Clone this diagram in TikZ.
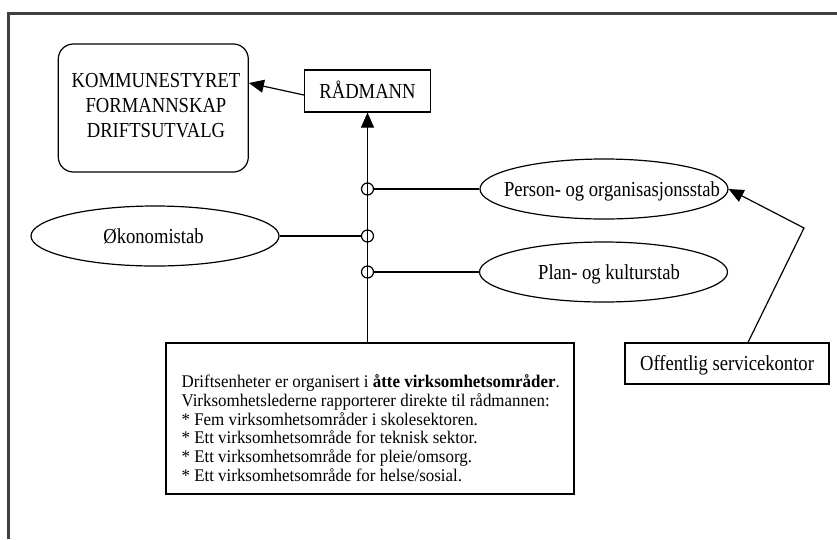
\documentclass[tikz,border=0pt]{standalone}
\usepackage{fontspec}
\setmainfont{Liberation Serif}[FakeStretch=0.87]
\newfontfamily\notefont{Liberation Serif}[FakeStretch=0.95]
\usetikzlibrary{arrows.meta,shapes.geometric}
\begin{document}
\begin{tikzpicture}[x=1pt,y=-1pt,
  line width=1.2pt,
  lbl/.style={font=\fontsize{21.4}{25}\selectfont, text height=14pt, text depth=0pt, inner sep=0pt},
  stab/.style={draw, ellipse, minimum width=248pt, minimum height=60pt, inner sep=0pt},
  boxed/.style={draw, rectangle, inner sep=0pt},
  arr/.style={-{Triangle[length=15pt,width=13pt]}},
  joint/.style={draw, circle, minimum size=12pt, inner sep=0pt},
  frame/.style={draw=black!75, line width=2.2pt}]
\useasboundingbox (0,0) rectangle (837,539);

% outer frame (only top and left edges fall inside the page)
\draw[frame] (837,13.5) -- (8.5,13.5) -- (8.5,539);

% council box
\node[draw, rounded corners=15pt, minimum width=190pt, minimum height=128pt, inner sep=0pt] (komm) at (153.3,108) {};
\node[font=\fontsize{21.4}{25}\selectfont, align=center, inner sep=0pt, anchor=north] (kommtext) at (156,73)
  {KOMMUNESTYRET\\FORMANNSKAP\\DRIFTSUTVALG};

% chief executive
\node[boxed, minimum width=126pt, minimum height=42pt, label={[lbl]center:RÅDMANN}] (radm) at (367.5,91) {};

% staff units
\node[stab, label={[lbl,xshift=8pt]center:Person- og organisasjonsstab}] (pers) at (604,189) {};
\node[stab, label={[lbl,xshift=-1.5pt]center:Økonomistab}] (okon) at (155,236) {};
\node[stab, label={[lbl,xshift=5.5pt]center:Plan- og kulturstab}] (plan) at (603.5,272) {};

% service office
\node[boxed, minimum width=204pt, minimum height=41pt, label={[lbl]center:Offentlig servicekontor}] (off) at (727,363.5) {};

% operating units
\node[boxed, minimum width=408pt, minimum height=151pt] (note) at (370,418.5) {};
\node[font=\notefont\fontsize{17.8}{18.8}\selectfont, align=left, inner sep=0pt, anchor=north west] (notetext) at (181,374)
  {Driftsenheter er organisert i \textbf{åtte virksomhetsområder}.\\
   Virksomhetslederne rapporterer direkte til rådmannen:\\
   * Fem virksomhetsområder i skolesektoren.\\
   * Ett virksomhetsområde for teknisk sektor.\\
   * Ett virksomhetsområde for pleie/omsorg.\\
   * Ett virksomhetsområde for helse/sosial.};

% reporting line and junctions
\draw[arr] (note.north -| radm.south) -- (radm.south);
\node[joint] (j1) at (367.5,189) {};
\node[joint] (j2) at (367.5,236) {};
\node[joint] (j3) at (367.5,272) {};
\draw (pers.west) -- (j1.east);
\draw (okon.east) -- (j2.west);
\draw (plan.west) -- (j3.east);

% reporting arrows
\draw[arr] ([yshift=-4pt]radm.west) -- ([yshift=25pt]komm.east);
\coordinate (bend) at (804,228);
\draw[arr] ([xshift=21pt]off.north) -- (bend) -- (pers.east);
\end{tikzpicture}
\end{document}
